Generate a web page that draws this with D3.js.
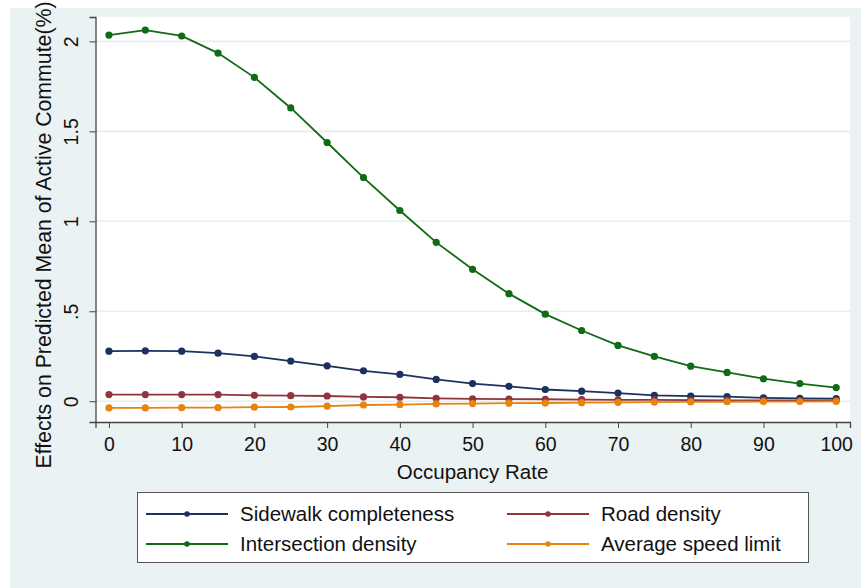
<!DOCTYPE html>
<html>
<head>
<meta charset="utf-8">
<script src="https://cdn.jsdelivr.net/npm/d3@7"></script>
<style>
  body { margin: 0; background: #fff; }
  svg { display: block; font-family: "Liberation Sans", Arial, sans-serif; }
  .tick text { font-size: 19.5px; fill: #111; }
</style>
</head>
<body>
<svg width="861" height="588"></svg>
<script>
const svg = d3.select('svg');
const width = +svg.attr('width');
const height = +svg.attr('height');

// data
const occupancy = [0, 5, 10, 15, 20, 25, 30, 35, 40, 45, 50, 55, 60, 65, 70, 75, 80, 85, 90, 95, 100];
const sidewalk = [0.278, 0.280, 0.278, 0.267, 0.249, 0.223, 0.197, 0.169, 0.149, 0.121, 0.098, 0.083, 0.065, 0.056, 0.045, 0.033, 0.028, 0.025, 0.019, 0.016, 0.014];
const road = [0.037, 0.037, 0.037, 0.037, 0.033, 0.031, 0.029, 0.024, 0.022, 0.016, 0.013, 0.012, 0.011, 0.009, 0.008, 0.007, 0.006, 0.005, 0.005, 0.004, 0.004];
const intersection = [2.035, 2.063, 2.030, 1.935, 1.800, 1.630, 1.438, 1.243, 1.060, 0.883, 0.733, 0.598, 0.484, 0.393, 0.310, 0.249, 0.195, 0.160, 0.125, 0.098, 0.076];
const speed = [-0.037, -0.037, -0.036, -0.036, -0.033, -0.032, -0.027, -0.021, -0.019, -0.015, -0.013, -0.011, -0.010, -0.008, -0.006, -0.005, -0.004, -0.003, -0.002, -0.002, -0.001];
const xTicks = [0, 10, 20, 30, 40, 50, 60, 70, 80, 90, 100];
const yTicks = [0, 0.5, 1, 1.5, 2];

const series = [
  { name: 'Sidewalk completeness', values: sidewalk, color: '#1d3160' },
  { name: 'Road density', values: road, color: '#8f363d' },
  { name: 'Intersection density', values: intersection, color: '#0f6b14' },
  { name: 'Average speed limit', values: speed, color: '#e8840e' }
];

const margin = { left: 95.5, top: 17, right: 11, bottom: 166 };
const innerWidth = width - margin.left - margin.right;
const innerHeight = height - margin.top - margin.bottom;

// outer graph region
svg.append('rect')
  .attr('x', 10).attr('y', 8)
  .attr('width', width - 10).attr('height', height - 8)
  .attr('fill', '#eaf2f3');

const g = svg.append('g')
  .attr('transform', `translate(${margin.left}, ${margin.top})`);

g.append('rect')
  .attr('width', innerWidth).attr('height', innerHeight)
  .attr('fill', '#fff');

const xScale = d3.scaleLinear()
  .domain([-1.85, 101.9])
  .range([0, innerWidth]);

const yScale = d3.scaleLinear()
  .domain([-0.1155, 2.1355])
  .range([innerHeight, 0]);

//gridlines
g.selectAll('.grid').data(yTicks)
  .enter().append('line')
    .attr('class', 'grid')
    .attr('x1', 0).attr('x2', innerWidth)
    .attr('y1', d => yScale(d)).attr('y2', d => yScale(d))
    .attr('stroke', '#e6eef0')
    .attr('stroke-width', 1.6);

//y axis
const yAxisG = g.append('g')
  .call(d3.axisLeft(yScale).tickValues(yTicks).tickSize(6).tickPadding(4)
    .tickFormat(d => d === 0 ? '0' : d3.format('')(d).replace(/^0\./, '.')));
yAxisG.select('.domain').attr('stroke', '#444').attr('stroke-width', 1.3);
yAxisG.selectAll('.tick line').attr('stroke', '#444');
yAxisG.selectAll('.tick text')
  .attr('transform', 'rotate(-90)')
  .attr('x', 0).attr('y', -18)
  .attr('dy', '0')
  .attr('text-anchor', 'middle');

//x axis
const xAxisG = g.append('g')
  .attr('transform', `translate(0, ${innerHeight})`)
  .call(d3.axisBottom(xScale).tickValues(xTicks).tickSize(6).tickPadding(9));
xAxisG.select('.domain').attr('stroke', '#444').attr('stroke-width', 1.3);
xAxisG.selectAll('.tick line').attr('stroke', '#444');

g.append('text')
  .attr('x', xScale(50)).attr('y', innerHeight + 57)
  .attr('text-anchor', 'middle')
  .attr('font-size', 20.5).attr('fill', '#111')
  .text('Occupancy Rate');

svg.append('text')
  .attr('transform', `translate(51, 235) rotate(-90)`)
  .attr('text-anchor', 'middle')
  .attr('font-size', 21.3).attr('fill', '#111')
  .text('Effects on Predicted Mean of Active Commute(%)');

//lines and markers
const line = d3.line()
  .x((d, i) => xScale(occupancy[i]))
  .y(d => yScale(d));

series.forEach(s => {
  g.append('path')
    .datum(s.values)
    .attr('fill', 'none')
    .attr('stroke', s.color)
    .attr('stroke-width', 1.8)
    .attr('d', line);
  g.selectAll(null).data(s.values)
    .enter().append('circle')
      .attr('cx', (d, i) => xScale(occupancy[i]))
      .attr('cy', d => yScale(d))
      .attr('r', 3.6)
      .attr('fill', s.color);
});

//legend
const legend = svg.append('g');
legend.append('rect')
  .attr('x', 137.5).attr('y', 492.5)
  .attr('width', 671).attr('height', 70)
  .attr('fill', '#fff')
  .attr('stroke', '#555').attr('stroke-width', 1);

const legendPos = [
  { x: 146, y: 514 }, { x: 507, y: 514 },
  { x: 146, y: 544 }, { x: 507, y: 544 }
];
series.forEach((s, i) => {
  const p = legendPos[i];
  const item = legend.append('g').attr('transform', `translate(${p.x}, ${p.y})`);
  item.append('line')
    .attr('x1', 0).attr('x2', 82)
    .attr('stroke', s.color).attr('stroke-width', 1.8);
  item.append('circle')
    .attr('cx', 41).attr('r', 2.8).attr('fill', s.color);
  item.append('text')
    .attr('x', 94).attr('dy', '0.35em')
    .attr('font-size', 20.5).attr('fill', '#111')
    .text(s.name);
});
</script>
</body>
</html>
